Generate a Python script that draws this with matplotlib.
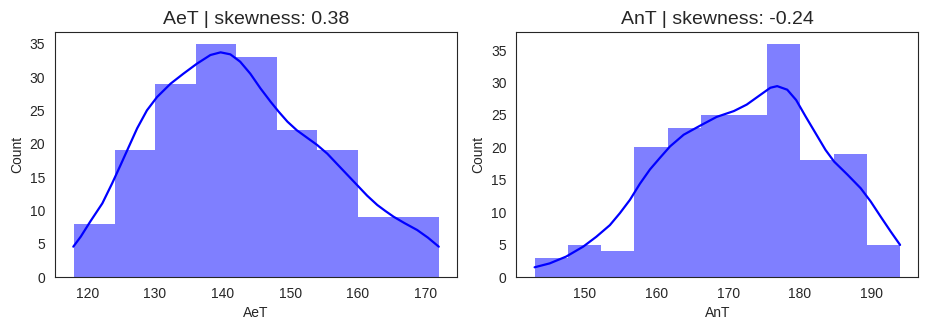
import matplotlib
matplotlib.use("Agg")
import matplotlib.pyplot as plt
import seaborn as sns

# Histogram bin edges and counts
aet_edges = [118, 124, 130, 136, 142, 148, 154, 160, 166, 172]
aet_counts = [8, 19, 29, 35, 33, 22, 19, 9, 9]

ant_edges = [143.0, 147.64, 152.27, 156.91, 161.55, 166.18, 170.82,
             175.45, 180.09, 184.73, 189.36, 194.0]
ant_counts = [3, 5, 4, 20, 23, 25, 25, 36, 18, 19, 5]

# Density curves (scaled to counts)
aet_kde_x = [117.9, 119.0, 120.4, 122.2, 123.65, 124.9, 126.1, 127.35,
             128.8, 130.3, 132.3, 134.2, 136.2, 138.2, 139.7, 141.15,
             142.6, 144.1, 145.6, 147.1, 148.3, 149.6, 151.0, 152.5,
             154.0, 155.5, 156.9, 158.4, 159.9, 161.4, 162.9, 164.1,
             165.3, 166.9, 168.8, 170.4, 172.0]
aet_kde_y = [4.55, 6.05, 8.3, 11.05, 14.05, 16.8, 19.5, 22.3,
             25.0, 27.0, 29.0, 30.5, 32.0, 33.3, 33.7, 33.4,
             32.3, 30.5, 28.3, 26.3, 24.8, 23.3, 22.0, 20.9,
             19.8, 18.5, 17.0, 15.4, 13.8, 12.2, 10.8, 9.9,
             9.05, 8.1, 7.05, 5.9, 4.55]

ant_kde_x = [143.0, 145.1, 147.4, 149.8, 151.6, 153.5, 154.9, 156.3,
             157.7, 159.1, 160.5, 161.9, 163.8, 166.1, 168.4, 170.8,
             172.6, 174.5, 175.9, 176.85, 178.25, 179.5, 180.8, 182.2,
             183.6, 184.8, 186.65, 188.5, 189.9, 191.3, 192.7, 194.0]
ant_kde_y = [1.5, 2.1, 3.15, 4.7, 6.2, 8.0, 9.85, 11.9,
             14.4, 16.6, 18.4, 20.15, 21.95, 23.35, 24.7, 25.6,
             26.6, 28.1, 29.2, 29.45, 28.9, 27.3, 24.8, 22.2,
             19.6, 17.8, 15.8, 13.7, 11.65, 9.3, 7.0, 4.95]

panels = [
    ("AeT", 0.38, aet_edges, aet_counts, aet_kde_x, aet_kde_y),
    ("AnT", -0.24, ant_edges, ant_counts, ant_kde_x, ant_kde_y),
]

sns.set_style("white")
plt.rcParams["font.family"] = ["Liberation Sans", "DejaVu Sans"]

fig = plt.figure(figsize=(9.28, 3.3), dpi=100)
positions = [[0.0593, 0.1606, 0.4332, 0.7424],
             [0.5564, 0.1606, 0.4332, 0.7424]]

for pos, (name, skew, edges, counts, kx, ky) in zip(positions, panels):
    ax = fig.add_axes(pos)
    widths = [edges[i + 1] - edges[i] for i in range(len(counts))]
    ax.bar(edges[:-1], counts, width=widths, align="edge",
           color="blue", alpha=0.5, linewidth=0)
    ax.plot(kx, ky, color="blue", linewidth=1.6,
            solid_joinstyle="round", solid_capstyle="round")
    ax.set_yticks(range(0, 40, 5))
    ax.set_title(f"{name} | skewness: {skew:.2f}", fontsize=14, color="0.15")
    ax.set_xlabel(name, fontsize=10, color="0.15")
    ax.set_ylabel("Count", fontsize=10, color="0.15")
    ax.tick_params(labelsize=10, colors="0.15")
    for s in ax.spines.values():
        s.set_color("0.15")

fig.savefig("out.png", dpi=100)
